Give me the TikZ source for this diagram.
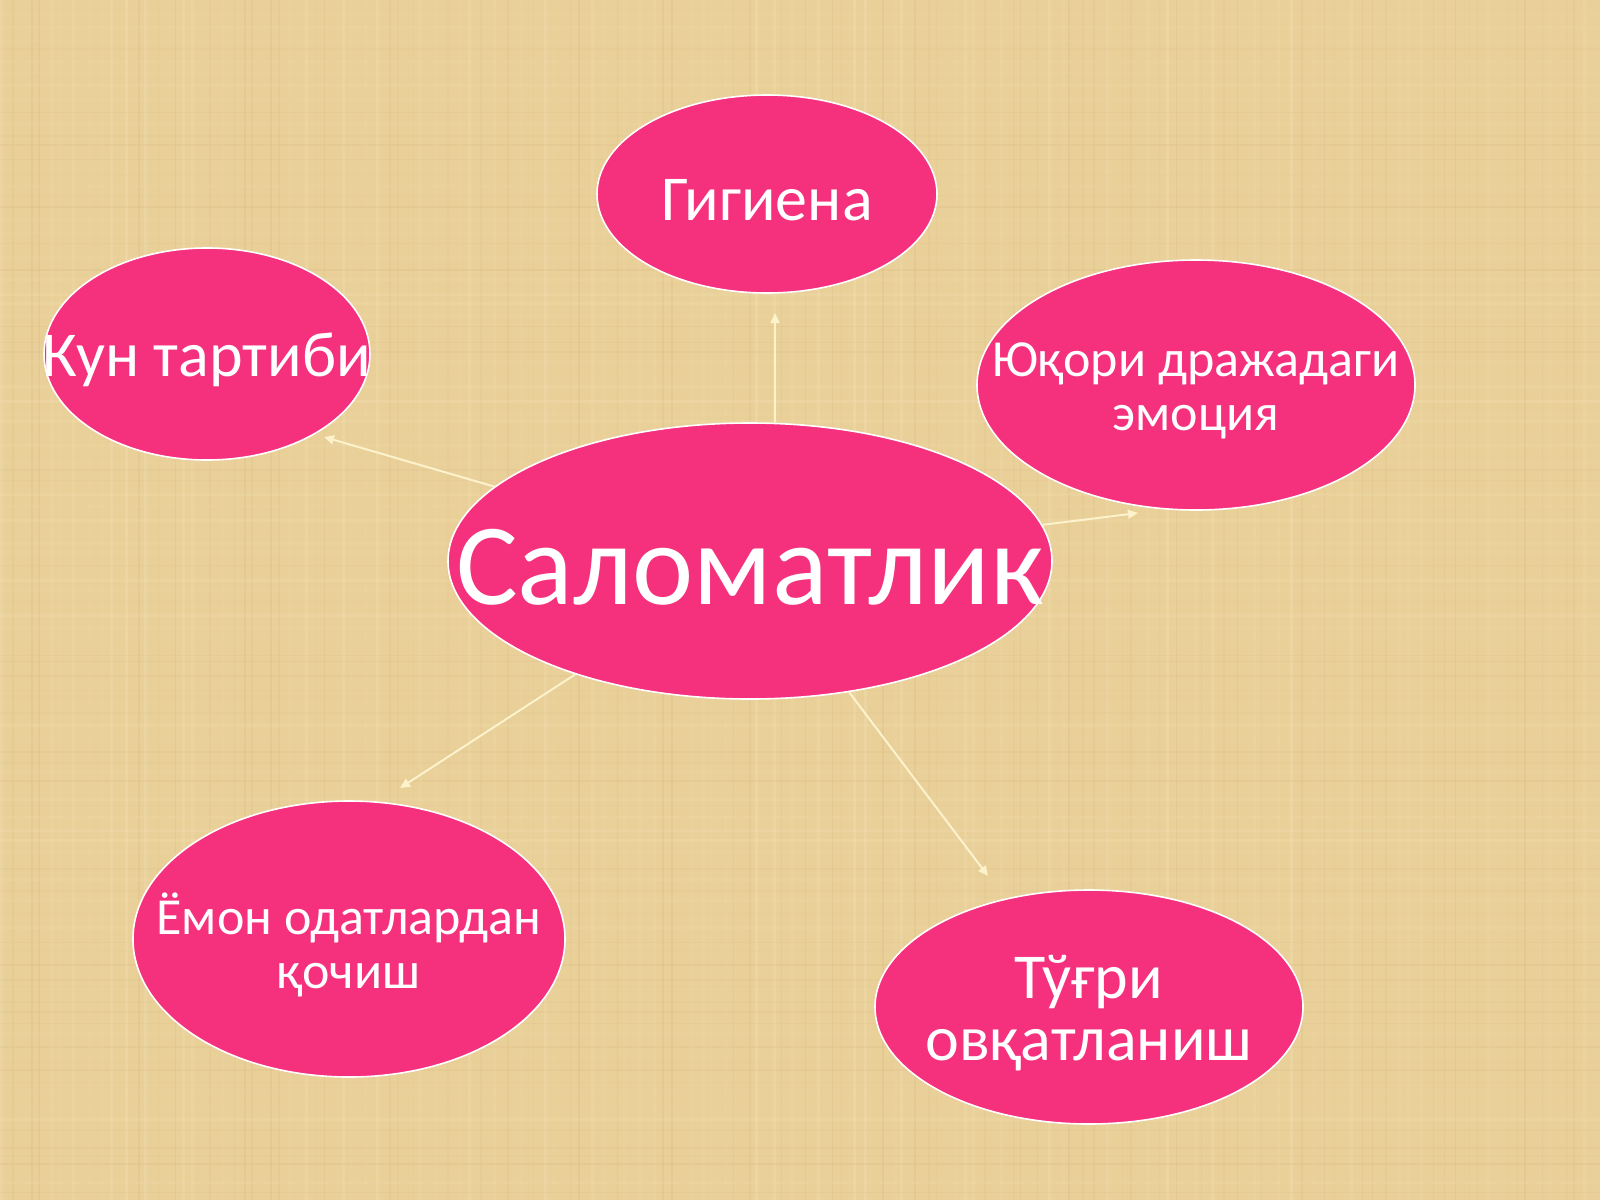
\documentclass[tikz,border=0pt]{standalone}
\usepackage{fontspec}
\setmainfont{Carlito}
\usepackage{xcolor}
\usetikzlibrary{shapes.geometric,arrows.meta}

\begin{document}
\begin{tikzpicture}[x=0.5pt,y=-0.5pt,
  bubble/.style={ellipse,draw=white,line width=0.8pt,fill=bubbleColor,inner sep=0pt},
  bubbletext/.style={text=white,inner sep=0pt,align=center,yshift=-3pt},
  link/.style={draw=linkColor,line width=1pt,-{Triangle[length=5pt,width=4.5pt]}}]
\definecolor{bgColor}{RGB}{233,207,152}
\definecolor{threadLight}{RGB}{246,228,184}
\definecolor{threadDark}{RGB}{214,186,128}
\definecolor{bubbleColor}{RGB}{245,48,125}
\definecolor{linkColor}{RGB}{252,243,205}
\path[use as bounding box,fill=bgColor] (0,0) rectangle (1600,1200);

% burlap texture
\pgfmathsetseed{7}
\foreach \i in {0,...,132} {
  \pgfmathsetmacro{\op}{0.08+0.22*rnd}
  \pgfmathsetmacro{\pos}{\i*12+8*rnd}
  \pgfmathsetmacro{\pick}{rnd}
  \ifdim\pick pt<0.5pt
    \draw[threadLight,line width=1.5pt,opacity=\op] (\pos,0) -- (\pos,1200);
  \else
    \draw[threadDark,line width=0.8pt,opacity=\op] (\pos,0) -- (\pos,1200);
  \fi
}
\foreach \j in {0,...,99} {
  \pgfmathsetmacro{\op}{0.06+0.18*rnd}
  \pgfmathsetmacro{\pos}{\j*12+8*rnd}
  \pgfmathsetmacro{\pick}{rnd}
  \ifdim\pick pt<0.5pt
    \draw[threadLight,line width=1.5pt,opacity=\op] (0,\pos) -- (1600,\pos);
  \else
    \draw[threadDark,line width=0.8pt,opacity=\op] (0,\pos) -- (1600,\pos);
  \fi
}

\node[bubble,minimum width=170pt,minimum height=99pt] (gigiena) at (767,194) {};
\node[bubble,minimum width=163pt,minimum height=106pt] (kun) at (207,354) {};
\node[bubble,minimum width=219pt,minimum height=125pt] (emotsiya) at (1196,385) {};
\node[bubble,minimum width=302pt,minimum height=138pt] (salom) at (750,561) {};
\node[bubble,minimum width=216pt,minimum height=138pt] (emon) at (349,939) {};
\node[bubble,minimum width=214pt,minimum height=117pt] (tugri) at (1089,1007) {};

\node[bubbletext,font=\fontsize{32}{38}\selectfont] (gigiena text) at (gigiena) {Гигиена};
\node[bubbletext,font=\fontsize{32}{38}\selectfont] (kun text) at (kun) {Кун тартиби};
\node[bubbletext,font=\fontsize{26}{27}\selectfont] (emotsiya text) at (emotsiya) {Юқори дражадаги\\эмоция};
\node[bubbletext,font=\fontsize{58}{60}\selectfont] (salom text) at (salom) {Саломатлик};
\node[bubbletext,font=\fontsize{26}{27}\selectfont] (emon text) at (emon) {Ёмон одатлардан\\қочиш};
\node[bubbletext,font=\fontsize{32}{31}\selectfont] (tugri text) at (tugri) {Тўғри\\овқатланиш};

\coordinate (tipG) at (775,313);
\coordinate (tipK) at (324,437);
\coordinate (tipE) at (1138,513);
\coordinate (tipM) at (400,788);
\coordinate (tipT) at (988,876);

\draw[link] (salom.north -| tipG) -- (tipG);
\draw[link] (salom) -- (tipK);
\draw[link] (salom) -- (tipE);
\draw[link] (salom) -- (tipM);
\draw[link] (salom) -- (tipT);
\end{tikzpicture}
\end{document}
